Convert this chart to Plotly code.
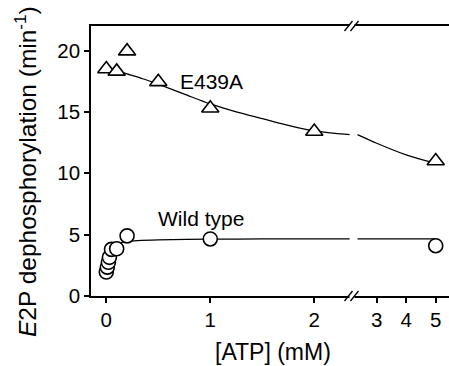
import plotly.graph_objects as go

# ---------------- data ----------------
e439a_x = [0, 0.1, 0.2, 0.5, 1, 2, 5]
e439a_y = [18.5, 18.3, 19.95, 17.45, 15.3, 13.4, 11.0]

wt_x = [0, 0.01, 0.02, 0.03, 0.05, 0.1, 0.2, 1, 5]
wt_y = [1.95, 2.35, 2.75, 3.15, 3.8, 3.85, 4.9, 4.65, 4.1]

# fitted curves, left and right of the axis break
e439a_fit_left_x = [0.03, 0.1, 0.2, 0.35, 0.5, 0.75, 1, 1.25, 1.5, 1.75, 2, 2.2, 2.34]
e439a_fit_left_y = [18.6, 18.4, 18.1, 17.7, 17.25, 16.45, 15.65, 15.0, 14.45, 13.9, 13.45, 13.25, 13.15]
e439a_fit_right_x = [2.35, 3, 4, 5]
e439a_fit_right_y = [13.15, 12.45, 11.5, 10.8]

wt_fit_left_x = [0.05, 0.1, 0.15, 0.2, 0.3, 0.5, 1, 1.5, 2, 2.34]
wt_fit_left_y = [3.9, 4.2, 4.36, 4.45, 4.52, 4.58, 4.63, 4.65, 4.66, 4.66]
wt_fit_right_x = [2.35, 3, 4, 5]
wt_fit_right_y = [4.66, 4.66, 4.66, 4.66]

left_ticks = [0, 1, 2]
right_ticks = [3, 4, 5]
y_ticks = [0, 5, 10, 15, 20]

BREAK = 2.3

# ---------------- layout geometry ----------------
W, H = 449, 366
ML, MR, MT, MB = 91, 0, 26, 70
PW = W - ML - MR
PH = H - MT - MB
SPLIT = (351.7 - ML) / PW

FONT = "Liberation Sans, Arial, sans-serif"
LW = 1.6


def px(xp):
    return (xp - ML) / PW


def py(yp):
    return (H - MB - yp) / PH


fig = go.Figure()


def split(xs, ys):
    a = [(x, y) for x, y in zip(xs, ys) if x <= BREAK]
    b = [(x, y) for x, y in zip(xs, ys) if x > BREAK]
    return a, b


# fit lines
for (xs, ys, ax) in [
    (e439a_fit_left_x, e439a_fit_left_y, "x"),
    (e439a_fit_right_x, e439a_fit_right_y, "x2"),
    (wt_fit_left_x, wt_fit_left_y, "x"),
    (wt_fit_right_x, wt_fit_right_y, "x2"),
]:
    fig.add_trace(go.Scatter(x=xs, y=ys, xaxis=ax, yaxis="y", mode="lines",
                             line=dict(color="black", width=1.2, shape="spline", smoothing=0.8),
                             showlegend=False, hoverinfo="skip"))

# markers
for xs, ys, sym, size in [(e439a_x, e439a_y, "triangle-up", 15), (wt_x, wt_y, "circle", 14)]:
    a, b = split(xs, ys)
    for pts, ax in [(a, "x"), (b, "x2")]:
        if not pts:
            continue
        fig.add_trace(go.Scatter(x=[p[0] for p in pts], y=[p[1] for p in pts],
                                 xaxis=ax, yaxis="y", mode="markers",
                                 marker=dict(symbol=sym, size=size, color="white",
                                             line=dict(color="black", width=1.6)),
                                 showlegend=False, cliponaxis=False))

axis_common = dict(showline=True, linecolor="black", linewidth=LW, mirror=True,
                   ticks="outside", ticklen=5, tickwidth=LW, tickcolor="black",
                   showgrid=False, zeroline=False,
                   tickfont=dict(family=FONT, size=20.5, color="black"))

fig.update_layout(
    width=W, height=H,
    margin=dict(l=ML, r=MR, t=MT, b=MB),
    paper_bgcolor="white", plot_bgcolor="white",
    xaxis=dict(domain=[0, SPLIT], range=[-0.147, 2.36], tickvals=left_ticks,
               anchor="y", **axis_common),
    xaxis2=dict(domain=[SPLIT, 1], range=[2.153, 5.45], tickvals=right_ticks,
                anchor="y", **axis_common),
    yaxis=dict(domain=[0, 1], range=[0, 22], tickvals=y_ticks, anchor="x",
               **{**axis_common, "mirror": False}),
)

# break marks: white gap + double slashes on top and bottom frame lines
shapes = []
for yc in (MT, H - MB):
    shapes.append(dict(type="rect", xref="paper", yref="paper",
                       x0=px(349.5), x1=px(354.5), y0=py(yc + 2), y1=py(yc - 2),
                       fillcolor="white", line=dict(width=0), layer="above"))
    for x0 in (344.5, 350.5):
        shapes.append(dict(type="line", xref="paper", yref="paper",
                           x0=px(x0), y0=py(yc + 5), x1=px(x0 + 8), y1=py(yc - 5),
                           line=dict(color="black", width=1.3), layer="above"))
fig.update_layout(shapes=shapes)

annos = [
    dict(text="E439A", x=px(211), y=py(81.7), size=21),
    dict(text="Wild type", x=px(200.5), y=py(218.3), size=21),
    dict(text="[ATP] (mM)", x=px(273), y=py(352), size=23),
    dict(text="<i>E</i>2P dephosphorylation (min<sup>-1</sup>)", x=px(25), y=py(172),
         size=24.5, angle=-90),
]
for a in annos:
    fig.add_annotation(text=a["text"], x=a["x"], y=a["y"], xref="paper", yref="paper",
                       showarrow=False, xanchor="center", yanchor="middle",
                       textangle=a.get("angle", 0),
                       font=dict(family=FONT, size=a.get("size", 19), color="black"))

fig.write_html("out.html")
